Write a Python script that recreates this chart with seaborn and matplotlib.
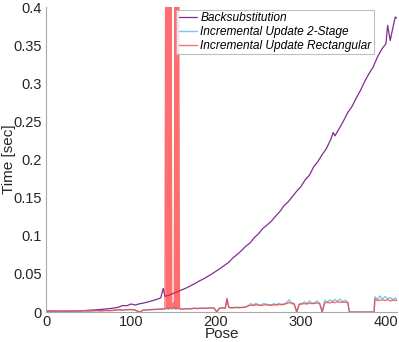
import numpy as np
import pandas as pd
import matplotlib
matplotlib.use('Agg')
import matplotlib.pyplot as plt
import seaborn as sns
from matplotlib.ticker import FuncFormatter

# Backsubstitution timing per pose
back_pose = [0, 5, 10, 15, 20, 25, 30, 35, 40, 45, 50, 55, 60, 65, 70, 75, 80, 85, 90, 95,
             100, 105, 110, 115, 120, 125, 130, 135, 138, 140, 145, 150, 155, 160, 165, 170,
             175, 180, 185, 190, 195, 200, 205, 210, 215, 220, 225, 230, 235, 240, 245, 250,
             255, 260, 265, 270, 275, 280, 285, 290, 295, 300, 305, 310, 315, 320, 325, 330,
             335, 338, 340, 345, 350, 355, 360, 365, 370, 375, 380, 385, 390, 395, 400, 402,
             405, 408, 411, 413]
back_time = [0.001, 0.0012, 0.001, 0.0011, 0.001, 0.0012, 0.0011, 0.0013, 0.0015, 0.0019,
             0.0023, 0.0026, 0.003, 0.0034, 0.004, 0.0045, 0.0052, 0.0062, 0.0085, 0.0082,
             0.0105, 0.0092, 0.0108, 0.0118, 0.0132, 0.0148, 0.0165, 0.0185, 0.031, 0.0205,
             0.0222, 0.0245, 0.0268, 0.0292, 0.0315, 0.0342, 0.0372, 0.0405, 0.0432, 0.0465,
             0.0498, 0.0535, 0.0572, 0.0612, 0.0652, 0.071, 0.0755, 0.0805, 0.0862, 0.0905,
             0.0975, 0.1025, 0.1095, 0.114, 0.119, 0.1255, 0.1315, 0.1395, 0.1445, 0.1515,
             0.1585, 0.1645, 0.1735, 0.1795, 0.1905, 0.1975, 0.2065, 0.2145, 0.2262, 0.2355,
             0.231, 0.2405, 0.2505, 0.2615, 0.2695, 0.2805, 0.2905, 0.3025, 0.3125, 0.3215,
             0.3345, 0.3445, 0.352, 0.376, 0.356, 0.372, 0.387, 0.385]

# Incremental update timings (both variants share the pose samples)
inc_pose = [0, 4, 8, 12, 16, 20, 25, 30, 35, 40, 45, 50, 55, 60, 65, 70, 75, 80, 85, 90, 95,
            100, 104, 108, 111, 114, 118, 122, 126, 130, 134, 138,
            140, 141, 142, 143, 144, 145, 146, 147, 148, 149, 150, 151, 152, 153, 154, 155,
            156, 157, 158,
            162, 166, 170, 174, 178, 182, 186, 190, 194, 198,
            201, 204, 208, 211, 213, 215, 219, 223, 227, 231, 235,
            238, 241, 244, 247, 250, 253, 256, 259, 262, 265, 268, 271, 274, 277, 280, 283,
            286, 289, 292, 295, 298,
            301, 304, 307, 310, 313, 316, 319, 322, 325, 328, 331, 334, 337, 340, 343, 346,
            349, 352, 355,
            357, 360, 365, 370, 375, 380, 385, 386,
            387, 390, 393, 396, 399, 402, 405, 408, 411, 413]

rect_time = [0.002, 0.001, 0.0015, 0.001, 0.0012, 0.001, 0.0012, 0.001, 0.0014, 0.0012,
             0.0015, 0.0013, 0.0016, 0.0018, 0.0015, 0.002, 0.0018, 0.0022, 0.003, 0.0025,
             0.003, 0.0032, 0.0028, 0.001, 0.0, 0.0025, 0.0028, 0.003, 0.0032, 0.0035, 0.0038,
             0.004,
             0.004, 0.55, 0.005, 0.5, 0.004, 0.6, 0.005, 0.45, 0.005, 0.005, 0.012, 0.005,
             0.52, 0.004, 0.58, 0.005, 0.5, 0.005, 0.004,
             0.004, 0.0045, 0.004, 0.005, 0.0045, 0.005, 0.0048, 0.005, 0.0055, 0.005,
             0.0, 0.005, 0.0055, 0.005, 0.018, 0.006, 0.0055, 0.006, 0.0058, 0.006, 0.0065,
             0.008, 0.009, 0.0085, 0.0095, 0.009, 0.0085, 0.009, 0.0095, 0.009, 0.0088, 0.0095,
             0.009, 0.0098, 0.0095, 0.01, 0.011, 0.0125, 0.011, 0.0105, 0.0, 0.01,
             0.0105, 0.011, 0.0105, 0.0115, 0.011, 0.0112, 0.0118, 0.011, 0.0, 0.012, 0.0125,
             0.012, 0.013, 0.0122, 0.0135, 0.0125, 0.013, 0.0128, 0.0125,
             0.0, 0.0, 0.0, 0.0, 0.0, 0.0, 0.0, 0.0,
             0.017, 0.015, 0.0155, 0.016, 0.015, 0.0165, 0.0145, 0.0155, 0.015, 0.0155]

two_stage_time = [0.002, 0.001, 0.0015, 0.001, 0.0012, 0.001, 0.0012, 0.001, 0.0014, 0.0012,
                  0.0015, 0.0013, 0.0016, 0.0018, 0.0015, 0.002, 0.0018, 0.0022, 0.003, 0.0025,
                  0.003, 0.0032, 0.0028, 0.001, 0.0, 0.0025, 0.0028, 0.003, 0.0032, 0.0035,
                  0.0038, 0.004,
                  0.004, 0.004, 0.005, 0.004, 0.005, 0.004, 0.005, 0.004, 0.005, 0.004, 0.006,
                  0.005, 0.004, 0.005, 0.004, 0.005, 0.004, 0.005, 0.004,
                  0.004, 0.0045, 0.004, 0.005, 0.0045, 0.005, 0.0048, 0.005, 0.0055, 0.005,
                  0.0, 0.005, 0.0055, 0.005, 0.017, 0.006, 0.0055, 0.006, 0.0058, 0.006, 0.0065,
                  0.0085, 0.011, 0.009, 0.0115, 0.0095, 0.009, 0.011, 0.0105, 0.0095, 0.009,
                  0.011, 0.0095, 0.0115, 0.01, 0.0105, 0.012, 0.016, 0.0125, 0.011, 0.0, 0.0105,
                  0.011, 0.0135, 0.011, 0.0145, 0.0115, 0.012, 0.0145, 0.0115, 0.0, 0.0155,
                  0.013, 0.016, 0.0135, 0.0165, 0.014, 0.017, 0.0135, 0.0155, 0.013,
                  0.0, 0.0, 0.0, 0.0, 0.0, 0.0, 0.0, 0.0,
                  0.02, 0.0165, 0.021, 0.017, 0.0205, 0.0175, 0.019, 0.016, 0.0185, 0.016]

labels = ['Backsubstitution', 'Incremental Update 2-Stage', 'Incremental Update Rectangular']
x_ticks = [0, 100, 200, 300, 400]
y_ticks = [0, 0.05, 0.1, 0.15, 0.2, 0.25, 0.3, 0.35, 0.4]

sns.set_theme(style='white')
plt.rcParams['font.family'] = ['Liberation Sans', 'DejaVu Sans']

fig = plt.figure(figsize=(3.99, 3.42), dpi=100)
ax = fig.add_axes([0.1153, 0.0877, 0.8797, 0.8918])

sns.lineplot(x=back_pose, y=back_time, ax=ax, color='#7E2F8E', lw=0.9,
             estimator=None, label=labels[0])
sns.lineplot(x=inc_pose, y=two_stage_time, ax=ax, color='#7EC8EA', lw=1.0,
             estimator=None, label=labels[1])
sns.lineplot(x=inc_pose, y=rect_time, ax=ax, color='#FF2020', lw=1.0, alpha=0.65,
             estimator=None, label=labels[2])

ax.set_xlim(0, 413)
ax.set_ylim(0, 0.4)
ax.set_xticks(x_ticks)
ax.set_yticks(y_ticks)
ax.yaxis.set_major_formatter(FuncFormatter(lambda v, p: f'{v:g}'))
ax.tick_params(direction='in', length=3, width=0.6, color='#9a9a9a',
               labelsize=10.5, labelcolor='#262626', pad=3)
ax.tick_params(axis='x', pad=2)

for side in ['top', 'right']:
    ax.spines[side].set_visible(False)
for side in ['left', 'bottom']:
    ax.spines[side].set_color('#a8a8a8')
    ax.spines[side].set_linewidth(0.8)

ax.set_xlabel('Pose', fontsize=11, color='#262626', labelpad=-1)
ax.set_ylabel('Time [sec]', fontsize=11, color='#262626')
ax.yaxis.set_label_coords(-0.086, 0.5)

leg = ax.legend(loc='upper right', bbox_to_anchor=(0.934, 0.99), frameon=True,
                fancybox=False, prop={'style': 'italic', 'size': 8.6},
                handlelength=1.5, handletextpad=0.3, labelspacing=0.15,
                borderpad=0.2, borderaxespad=0.0)
leg.get_frame().set_edgecolor('#b0b0b0')
leg.get_frame().set_linewidth(0.8)
for text in leg.get_texts():
    text.set_color('black')

fig.savefig('out.png', dpi=100)
